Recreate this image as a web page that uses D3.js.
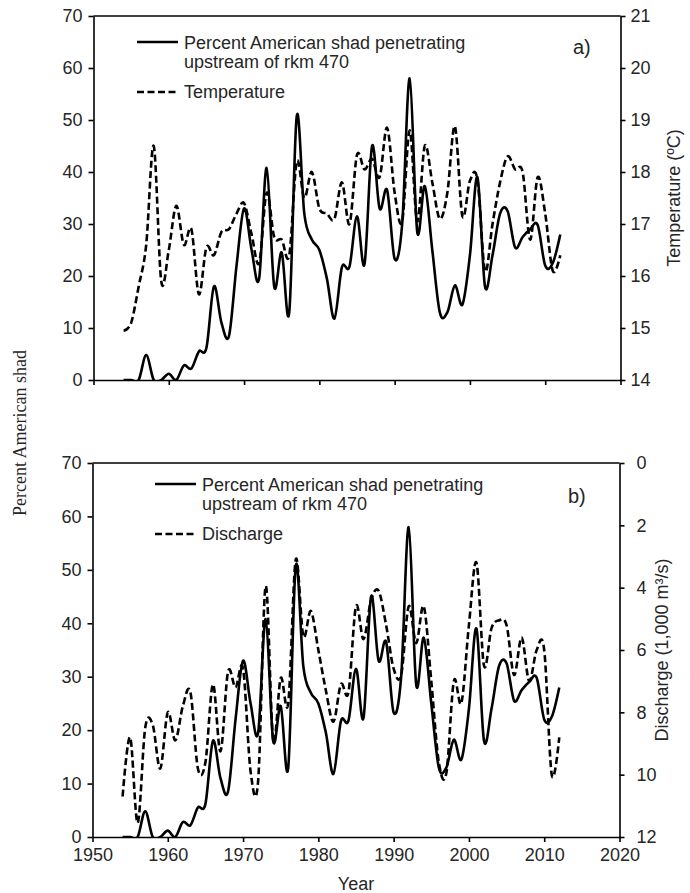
<!DOCTYPE html>
<html><head><meta charset="utf-8">
<script src="https://cdn.jsdelivr.net/npm/d3@7"></script>
<style>
body{margin:0;background:#fff}
svg{display:block}
text{font-family:"Liberation Sans",Arial,sans-serif;fill:#262626}
</style>
</head><body>
<svg id="c" width="690" height="893"></svg>
<script>
const years = [1954,1955,1956,1957,1958,1959,1960,1961,1962,1963,1964,1965,1966,1967,1968,1969,
  1970,1971,1972,1973,1974,1975,1976,1977,1978,1979,1980,1981,1982,1983,1984,1985,1986,1987,1988,1989,
  1990,1991,1992,1993,1994,1995,1996,1997,1998,1999,2000,2001,2002,2003,2004,2005,2006,2007,2008,2009,
  2010,2011,2012];
const percentShad = [0,0,0,4.8,0,0,1.2,0,2.8,2.2,5.5,6.2,18,11,8.5,22,
  33,25,19.5,40.8,18,24.5,13,50.8,32,27,25,19.5,11.8,21.7,21.8,31.5,22.3,45,33,36.5,
  23.3,30,58,28.5,37.3,25,13,13,18.2,14.5,24,39,18,24,32,32.5,25.5,27.5,29,29.8,
  22,22.5,28];
const temperature = [14.95,15.1,15.8,16.6,18.5,15.9,16.5,17.35,16.6,16.9,15.65,16.55,16.4,16.85,16.9,17.2,
  17.4,16.8,16.25,17.6,16.75,16.7,16.4,18.2,17.5,18.0,17.3,17.2,17.1,17.8,17.0,18.33,18.05,18.25,17.9,18.85,
  17.6,17.05,18.8,17.05,18.5,17.8,17.1,17.6,18.88,17.15,17.83,17.85,16.1,17.0,17.8,18.3,18.05,18.0,16.7,17.9,
  17.2,16.1,16.4];
const discharge = [10.7,8.8,11.55,8.5,8.4,9.8,8.0,8.9,7.8,7.35,9.8,9.6,7.1,9.25,6.7,7.2,
  6.6,9.9,10.2,3.95,8.9,6.9,7.7,3.1,5.55,4.75,6.0,7.3,8.3,7.1,7.35,4.6,5.65,4.4,4.1,5.2,
  6.6,6.8,4.6,5.78,4.6,7.0,9.6,9.95,7.0,7.7,5.2,3.2,6.5,5.3,5.05,5.2,6.8,5.6,7.0,6.0,
  6.0,10.0,8.8];
const yearTicks = [1950,1960,1970,1980,1990,2000,2010,2020];
const percentTicks = [0,10,20,30,40,50,60,70];
const tempTicks = [14,15,16,17,18,19,20,21];
const dischargeTicks = [0,2,4,6,8,10,12];

const svg = d3.select("#c");
const curve = d3.curveCardinal.tension(0);

function panel(o){
  const x = d3.scaleLinear().domain([1950,2020]).range(o.xRange);
  const g = svg.append("g");
  const yL = d3.scaleLinear().domain([0,70]).range([o.y1,o.y0]);
  const yR = d3.scaleLinear().domain(o.rDomain).range(o.rRange);
  const id = "clip"+o.key;
  g.append("clipPath").attr("id",id).append("rect")
    .attr("x",x(1950)).attr("y",o.y0).attr("width",x(2020)-x(1950)).attr("height",o.y1-o.y0);

  g.append("line").attr("x1",x(1950)).attr("x2",x(2020)).attr("y1",o.y0).attr("y2",o.y0)
    .attr("stroke","#000").attr("stroke-width",1.6);

  const ax = d3.axisBottom(x).tickValues(yearTicks).tickSize(5).tickSizeOuter(0).tickFormat(o.xLabels? d3.format("d") : "");
  const gx = g.append("g").attr("transform",`translate(0,${o.y1})`).call(ax);
  const ay = d3.axisLeft(yL).tickValues(percentTicks).tickSize(5).tickSizeOuter(0).tickPadding(6).tickFormat(d3.format("d"));
  const gy = g.append("g").attr("transform",`translate(${x(1950)},0)`).call(ay);
  const ar = d3.axisRight(yR).tickValues(o.rTicks).tickSize(5).tickSizeOuter(0).tickPadding(o.rPad).tickFormat(d3.format("d"));
  const gr = g.append("g").attr("transform",`translate(${x(2020)},0)`).call(ar);
  [gx,gy,gr].forEach(a=>{
    a.select(".domain").attr("stroke","#000").attr("stroke-width",1.6);
    a.selectAll(".tick line").attr("stroke","#000").attr("stroke-width",1.6);
    a.selectAll(".tick text").attr("font-size",18).attr("fill","#262626")
      .style("font-family",'"Liberation Sans",Arial,sans-serif');
  });
  gx.selectAll(".tick text").attr("dy","0.9em");

  const pts = years.map((yr,i)=>({yr,p:percentShad[i],r:o.rData[i]}));
  const plot = g.append("g").attr("clip-path",`url(#${id})`);
  plot.append("path").datum(pts)
    .attr("d",d3.line().x(d=>x(d.yr)).y(d=>yR(d.r)).curve(curve))
    .attr("fill","none").attr("stroke","#000").attr("stroke-width",2.6).attr("stroke-dasharray","7,3.5");
  plot.append("path").datum(pts)
    .attr("d",d3.line().x(d=>x(d.yr)).y(d=>yL(d.p)).curve(curve))
    .attr("fill","none").attr("stroke","#000").attr("stroke-width",2.6);

  const L = o.legend;
  g.append("line").attr("x1",L.x).attr("x2",L.x+41).attr("y1",L.y).attr("y2",L.y)
    .attr("stroke","#000").attr("stroke-width",2.6);
  g.append("text").attr("x",L.x+47).attr("y",L.y+7).attr("font-size",18).text("Percent American shad penetrating");
  g.append("text").attr("x",L.x+47).attr("y",L.y+26).attr("font-size",18).text("upstream of rkm 470");
  g.append("line").attr("x1",L.x).attr("x2",L.x+41).attr("y1",L.y+50).attr("y2",L.y+50)
    .attr("stroke","#000").attr("stroke-width",2.6).attr("stroke-dasharray","7,3.5");
  g.append("text").attr("x",L.x+47).attr("y",L.y+56).attr("font-size",18).text(o.seriesName);

  g.append("text").attr("x",o.tagX).attr("y",o.tagY).attr("font-size",20).text(o.tag);

  g.append("text").attr("transform",`translate(${o.titleX},${(o.y0+o.y1)/2}) rotate(-90)`)
    .attr("text-anchor","middle").attr("font-size",18).text(o.title);
  return x;
}

panel({key:"a", xRange:[93.5,620.5], y0:16, y1:380, rDomain:[14,21], rRange:[380,16], rTicks:tempTicks, rPad:5,
  rData:temperature, xLabels:false, seriesName:"Temperature",
  legend:{x:137,y:42}, tag:"a)", tagX:573, tagY:54, title:"Temperature (ºC)", titleX:680});
const xb = panel({key:"b", xRange:[92.5,619.5], y0:463, y1:837, rDomain:[0,12], rRange:[463,837], rTicks:dischargeTicks, rPad:12,
  rData:discharge, xLabels:true, seriesName:"Discharge",
  legend:{x:155,y:484}, tag:"b)", tagX:568, tagY:503, title:"Discharge (1,000 m³/s)", titleX:668});

svg.append("text").attr("transform","translate(26,433) rotate(-90)").attr("text-anchor","middle")
  .attr("font-size",18).style("font-family",'"Liberation Serif","Times New Roman",serif')
  .text("Percent American shad");
svg.append("text").attr("x",(xb(1950)+xb(2020))/2).attr("y",890).attr("text-anchor","middle")
  .attr("font-size",18).text("Year");
</script>
</body></html>
